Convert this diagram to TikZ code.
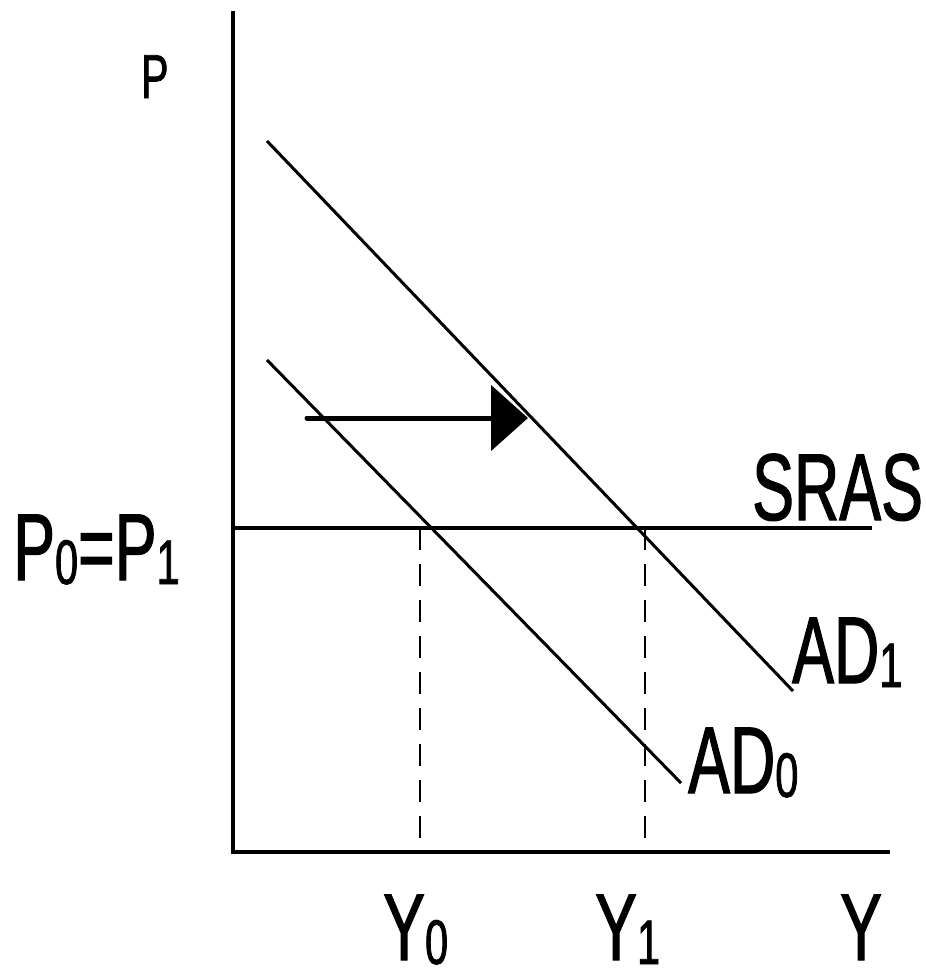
\documentclass[tikz,border=0pt]{standalone}
\usepackage{fontspec}
\setmainfont{Liberation Sans}[FakeStretch=0.66, FakeBold=1.2]
\usetikzlibrary{arrows.meta}
\newcommand{\subsc}[1]{\raisebox{-4pt}{\fontsize{63}{63}\selectfont #1}}
\tikzset{
  axisline/.style={line width=4pt, line cap=butt},
  curve/.style={line width=3pt},
  guide/.style={line width=2pt, dash pattern=on 22pt off 14pt},
  shiftarrow/.style={line width=5pt, line cap=round, -{Triangle[length=37pt,width=65pt]}},
  biglabel/.style={inner sep=0pt, text depth=0pt, font=\fontsize{95}{95}\selectfont},
  smalllabel/.style={inner sep=0pt, text depth=0pt, font=\fontsize{62}{62}\selectfont}
}
\begin{document}
\begin{tikzpicture}[x=1pt,y=-1pt]
\useasboundingbox (0,0) rectangle (926,970);
% axes
\coordinate (origin) at (233,852);
\coordinate (ytop) at (233,11);
\coordinate (xend) at (890,852);
\draw[axisline] (ytop) -- (origin) -- (xend);
% SRAS
\coordinate (sras0) at (233,528);
\coordinate (sras1) at (872,528);
\draw[axisline] (sras0) -- (sras1);
% AD curves
\coordinate (ad1a) at (267,141);
\coordinate (ad1b) at (793,691);
\coordinate (ad0a) at (267,360);
\coordinate (ad0b) at (681,783);
\draw[curve] (ad1a) -- (ad1b);
\draw[curve] (ad0a) -- (ad0b);
% dashed guides
\coordinate (g0t) at (420,528);
\coordinate (g0b) at (420,852);
\coordinate (g1t) at (645,528);
\coordinate (g1b) at (645,852);
\draw[guide] (g0t) -- (g0b);
\draw[guide] (g1t) -- (g1b);
% shift arrow
\coordinate (arr0) at (307,418);
\coordinate (arr1) at (528,418);
\draw[shiftarrow] (arr0) -- (arr1);
% labels
\node[smalllabel, anchor=base west] (lp) at (141,98) {P};
\node[biglabel, anchor=base west] (lp01) at (13,580) {P\subsc{0}=P\subsc{1}};
\node[biglabel, anchor=base west] (lsras) at (752,520) {SRAS};
\node[biglabel, anchor=base west] (lad1) at (792,683) {AD\subsc{1}};
\node[biglabel, anchor=base west] (lad0) at (688,793) {AD\subsc{0}};
\node[biglabel, anchor=base west] (ly0) at (383,960) {Y\subsc{0}};
\node[biglabel, anchor=base west] (ly1) at (595,960) {Y\subsc{1}};
\node[biglabel, anchor=base west] (ly) at (840,960) {Y};
\end{tikzpicture}
\end{document}
